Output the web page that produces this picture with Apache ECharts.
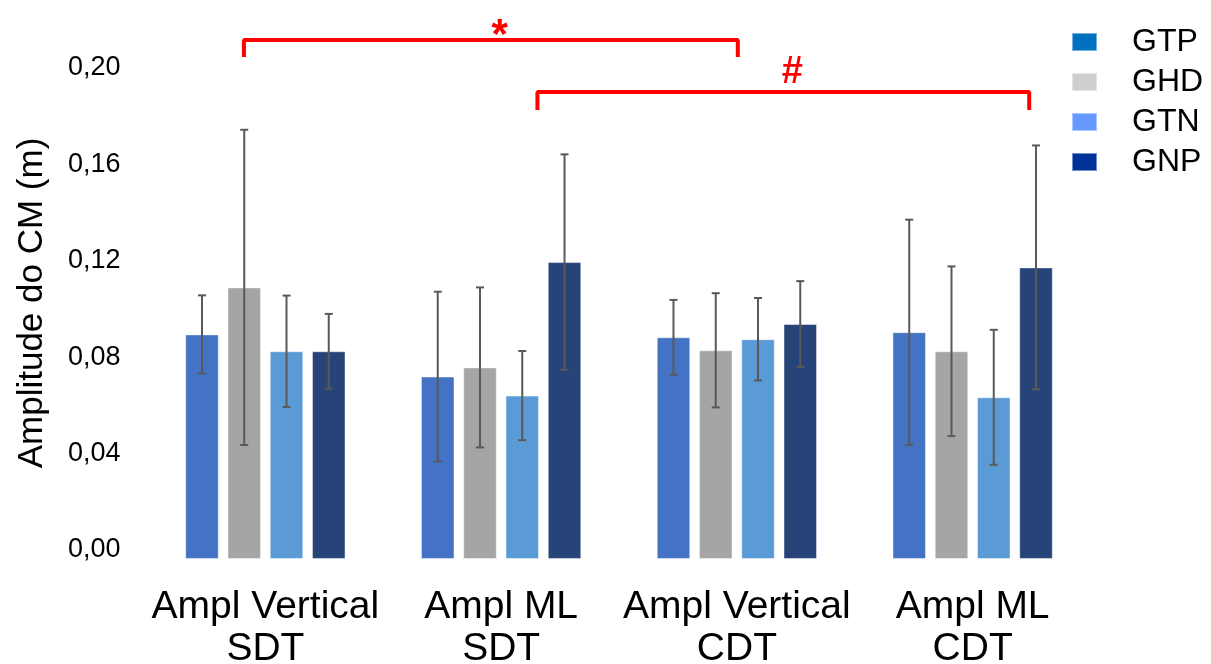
<!DOCTYPE html>
<html>
<head>
<meta charset="utf-8">
<script src="https://cdn.jsdelivr.net/npm/echarts@6/dist/echarts.min.js"></script>
<style>html,body{margin:0;padding:0;background:#fff}#c{width:1211px;height:664px}</style>
</head>
<body>
<div id="c"></div>
<script>
var categories = ['Ampl Vertical\nSDT', 'Ampl ML\nSDT', 'Ampl Vertical\nCDT', 'Ampl ML\nCDT'];
var seriesNames = ['GTP', 'GHD', 'GTN', 'GNP'];
var GTP = [0.0932, 0.0757, 0.0920, 0.0941];
var GHD = [0.1127, 0.0795, 0.0866, 0.0862];
var GTN = [0.0862, 0.0678, 0.0912, 0.0671];
var GNP = [0.0862, 0.1232, 0.0975, 0.1210];
var GTP_sd = [0.0162, 0.0352, 0.0155, 0.0467];
var GHD_sd = [0.0654, 0.0332, 0.0237, 0.0352];
var GTN_sd = [0.0231, 0.0185, 0.0171, 0.0280];
var GNP_sd = [0.0155, 0.0447, 0.0178, 0.0506];
var yTicks = [0, 0.04, 0.08, 0.12, 0.16, 0.20];
// significance brackets: [xStart, xEnd] in category-index units, bar level, leg level, symbol, symbol position
var bracket1 = {x: [-0.091, 2.004], top: 0.2154, leg: 0.2083, sym: '*', symX: 0.994, symY: 0.2168};
var bracket2 = {x: [1.154, 3.240], top: 0.1938, leg: 0.1863, sym: '#', symX: 2.235, symY: 0.2018};

var barColors = ['#4472C4', '#A5A5A5', '#5B9BD5', '#264478'];
var legendColors = ['#0070C0', '#D0CECE', '#6699FF', '#003399'];
var means = [GTP, GHD, GTN, GNP];
var sds = [GTP_sd, GHD_sd, GTN_sd, GNP_sd];
var CAT_GAP = 0.32, BAR_GAP = 0.26;
var FONT = 'Liberation Sans, Arial, sans-serif';

var chart = echarts.init(document.getElementById('c'));
var series = [];
seriesNames.forEach(function (name, k) {
  series.push({
    name: name, type: 'bar', data: means[k],
    barCategoryGap: (CAT_GAP * 100) + '%', barGap: (BAR_GAP * 100) + '%',
    itemStyle: {color: barColors[k], borderColor: 'rgba(255,255,255,0.45)', borderWidth: 1},
    emphasis: {disabled: true}, z: 2
  });
});
seriesNames.forEach(function (name, k) {
  var data = means[k].map(function (m, i) { return [i, m - sds[k][i], m + sds[k][i]]; });
  series.push({
    type: 'custom', name: name + ' err', data: data, z: 5, silent: true,
    renderItem: function (params, api) {
      var i = api.value(0);
      var lo = api.coord([i, api.value(1)]);
      var hi = api.coord([i, api.value(2)]);
      var bw = api.size([1, 0])[0];
      var b = bw * (1 - CAT_GAP) / (4 + 3 * BAR_GAP);
      var x = lo[0] + (k - 1.5) * b * (1 + BAR_GAP);
      var h = 4;
      var st = {stroke: '#595959', lineWidth: 2};
      return {type: 'group', children: [
        {type: 'line', shape: {x1: x, y1: hi[1], x2: x, y2: lo[1]}, style: st},
        {type: 'line', shape: {x1: x - h, y1: hi[1], x2: x + h, y2: hi[1]}, style: st},
        {type: 'line', shape: {x1: x - h, y1: lo[1], x2: x + h, y2: lo[1]}, style: st}
      ]};
    },
    encode: {x: 0, y: [1, 2]}
  });
});
[bracket1, bracket2].forEach(function (br) {
  series.push({
    type: 'line', xAxisIndex: 1, symbol: 'none', clip: false, silent: true, z: 6,
    lineStyle: {color: '#FF0000', width: 4},
    data: [[br.x[0], br.leg], [br.x[0], br.top], [br.x[1], br.top], [br.x[1], br.leg]]
  });
  series.push({
    type: 'scatter', xAxisIndex: 1, symbolSize: 0, clip: false, silent: true, z: 6,
    itemStyle: {opacity: 1},
    data: [[br.symX, br.symY]],
    label: {show: true, position: 'inside', formatter: br.sym, color: '#FF0000', opacity: 1,
      fontSize: br.sym === '*' ? 42 : 38, fontWeight: 'bold', fontFamily: FONT}
  });
});

chart.setOption({
  animation: false,
  grid: {left: 147.5, right: 120.5, top: 77, bottom: 105, containLabel: false, outerBoundsMode: 'none'},
  legend: {
    orient: 'vertical', left: 1066, top: 21,
    itemWidth: 25, itemHeight: 18, itemGap: 8,
    icon: 'rect',
    data: seriesNames.map(function (n, k) { return {name: n, itemStyle: {color: legendColors[k]}}; }),
    textStyle: {fontSize: 32, lineHeight: 31, color: '#000', fontFamily: FONT, padding: [0, 0, 0, 30]},
    selectedMode: false
  },
  xAxis: [
    {type: 'category', data: categories,
      axisLine: {show: false}, axisTick: {show: false},
      axisLabel: {fontSize: 39, lineHeight: 42, color: '#000', fontFamily: FONT, margin: 27, interval: 0}},
    {type: 'value', min: -0.5, max: 3.5, show: false}
  ],
  yAxis: {
    type: 'value', min: 0, max: 0.2, interval: 0.04,
    axisLine: {show: false}, axisTick: {show: false}, splitLine: {show: false},
    axisLabel: {fontSize: 27, color: '#000', fontFamily: FONT, margin: 27, verticalAlign: 'bottom', lineHeight: 18,
      formatter: function (v) { return v.toFixed(2).replace('.', ','); }},
    name: 'Amplitude do CM (m)', nameLocation: 'middle', nameRotate: 90, nameGap: 98,
    nameTextStyle: {fontSize: 35, color: '#000', fontFamily: FONT, padding: [0, 0, 0, 30]}
  },
  series: series
});
</script>
</body>
</html>
